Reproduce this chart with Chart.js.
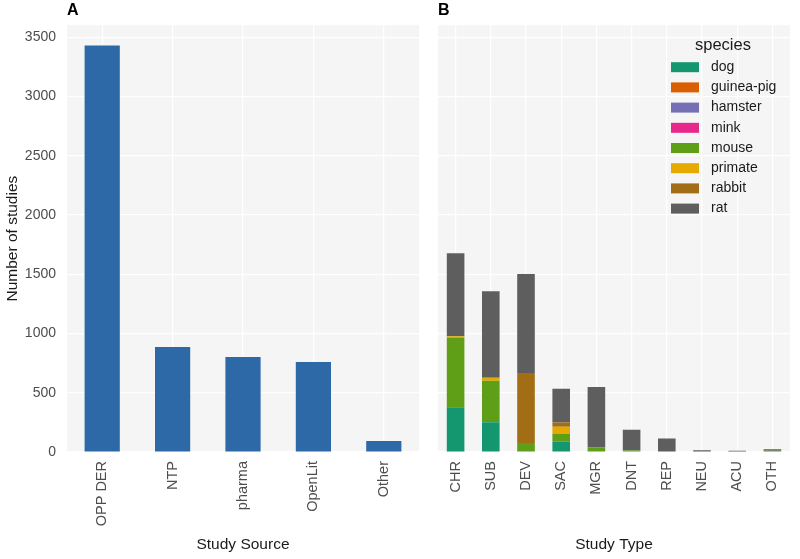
<!DOCTYPE html>
<html>
<head>
<meta charset="utf-8">
<script src="https://cdn.jsdelivr.net/npm/chart.js@4/dist/chart.umd.min.js"></script>
<style>
  body { margin: 0; background: #fff; }
  #wrap { position: relative; width: 800px; height: 559px; }
  canvas { position: absolute; top: 0; }
  #chart-source { left: 0; }
  #chart-type { left: 430px; }
</style>
</head>
<body>
<div id="wrap">
  <canvas id="chart-source" width="430" height="559"></canvas>
  <canvas id="chart-type" width="370" height="559"></canvas>
</div>
<script>
// panel A
var sourceLabels = ['OPP DER', 'NTP', 'pharma', 'OpenLit', 'Other'];
var sourceCounts = [3430, 885, 801, 759, 93];

// panel B, stacked by species (bottom to top)
var typeLabels = ['CHR', 'SUB', 'DEV', 'SAC', 'MGR', 'DNT', 'REP', 'NEU', 'ACU', 'OTH'];
var speciesNames = ['dog', 'guinea-pig', 'hamster', 'mink', 'mouse', 'primate', 'rabbit', 'rat'];
var speciesColors = ['#14976F', '#D95F02', '#7570B3', '#E7298A', '#5F9F17', '#E5A900', '#A26D14', '#5E5E5E'];
var dog       = [378, 250, 0, 87, 0, 0, 0, 0, 0, 0];
var guineaPig = [0, 2, 0, 0, 0, 0, 0, 0, 0, 0];
var hamster   = [2, 0, 0, 0, 0, 0, 0, 0, 0, 0];
var mink      = [0, 0, 0, 0, 0, 0, 0, 0, 0, 0];
var mouse     = [586, 350, 76, 65, 40, 12, 5, 0, 0, 10];
var primate   = [11, 25, 0, 62, 0, 0, 0, 0, 0, 0];
var rabbit    = [0, 0, 590, 34, 0, 0, 0, 0, 0, 0];
var rat       = [699, 730, 835, 285, 508, 175, 108, 15, 10, 14];
var speciesData = [dog, guineaPig, hamster, mink, mouse, primate, rabbit, rat];

// shared y axis
var yTicks = [0, 500, 1000, 1500, 2000, 2500, 3000, 3500];
var yMax = 3601;  // ggplot adds 5% above the tallest bar

Chart.defaults.font.family = '"Liberation Sans", Arial, sans-serif';
Chart.defaults.animation = false;

var panelBg = {
    id: 'panelBg',
    beforeDraw: (chart) => {
        var a = chart.chartArea;
        chart.ctx.save();
        chart.ctx.fillStyle = '#F5F5F5';
        chart.ctx.fillRect(a.left, a.top, a.right - a.left, a.bottom - a.top);
        chart.ctx.restore();
    }
};

var speciesLegend = {
    id: 'speciesLegend',
    afterDraw: (chart) => {
        var ctx = chart.ctx;
        var a = chart.chartArea;
        var x0 = a.right - 119;
        ctx.save();
        ctx.textAlign = 'left';
        ctx.textBaseline = 'middle';
        ctx.fillStyle = '#1A1A1A';
        ctx.font = '16.5px "Liberation Sans", Arial, sans-serif';
        ctx.fillText('species', x0 + 24, a.top + 20);
        ctx.font = '14px "Liberation Sans", Arial, sans-serif';
        chart.data.datasets.forEach((ds, i) => {
            var y = a.top + 42 + i * 20.2;
            ctx.fillStyle = ds.backgroundColor;
            ctx.fillRect(x0, y - 5, 28, 10);
            ctx.fillStyle = '#1A1A1A';
            ctx.fillText(ds.label, x0 + 40, y);
        });
        ctx.restore();
    }
};

function panelTitle(text) {
    return {
        display: true,
        text: text,
        align: 'start',
        fullSize: false,
        color: '#000',
        font: { size: 16, weight: 'bold' },
        padding: { top: 1, bottom: 5 },
    };
}

function xScale(title) {
    return {
        stacked: true,
        offset: true,
        border: { display: false },
        grid: { color: '#FFFFFF', lineWidth: 1.2, offset: false, drawTicks: false },
        ticks: { color: '#4D4D4D', font: { size: 14.5 }, minRotation: 90, maxRotation: 90, padding: 9, autoSkip: false },
        title: { display: true, text: title, color: '#1A1A1A', font: { size: 15.5 }, padding: { top: 0, bottom: 5 } },
        afterFit: (scale) => { scale.height = 107; },
    };
}

function yScale(showTicks, width) {
    return {
        stacked: true,
        min: 0,
        max: yMax,
        border: { display: false },
        grid: { color: '#FFFFFF', lineWidth: 1.2, drawTicks: false },
        ticks: {
            display: showTicks,
            autoSkip: false,
            color: '#4D4D4D',
            font: { size: 14 },
            padding: 11,
            callback: (v) => String(v),
        },
        afterBuildTicks: (scale) => {
            scale.ticks = yTicks.map((v) => ({ value: v }));
        },
        title: {
            display: showTicks,
            text: 'Number of studies',
            color: '#1A1A1A',
            font: { size: 15.5 },
            padding: { top: 3, bottom: 0 },
        },
        afterFit: (scale) => { scale.width = width; },
    };
}

new Chart(document.getElementById('chart-source').getContext('2d'), {
    type: 'bar',
    data: {
        labels: sourceLabels,
        datasets: [{
            label: 'studies',
            data: sourceCounts,
            backgroundColor: '#2D69A6',
            borderWidth: 0,
            barPercentage: 0.5,
            categoryPercentage: 1,
        }],
    },
    options: {
        responsive: false,
        layout: { padding: { left: 0, right: 11, top: 0, bottom: 0 } },
        plugins: {
            legend: { display: false },
            tooltip: { enabled: false },
            title: panelTitle('A'),
        },
        scales: {
            x: xScale('Study Source'),
            y: yScale(true, 67),
        },
    },
    plugins: [panelBg],
});

new Chart(document.getElementById('chart-type').getContext('2d'), {
    type: 'bar',
    data: {
        labels: typeLabels,
        datasets: speciesNames.map((name, i) => ({
            label: name,
            data: speciesData[i],
            backgroundColor: speciesColors[i],
            borderWidth: 0,
            barPercentage: 0.5,
            categoryPercentage: 1,
        })),
    },
    options: {
        responsive: false,
        layout: { padding: { left: 0, right: 10, top: 0, bottom: 0 } },
        plugins: {
            legend: { display: false },
            tooltip: { enabled: false },
            title: panelTitle('B'),
        },
        scales: {
            x: xScale('Study Type'),
            y: yScale(false, 8),
        },
    },
    plugins: [panelBg, speciesLegend],
});
</script>
</body>
</html>
